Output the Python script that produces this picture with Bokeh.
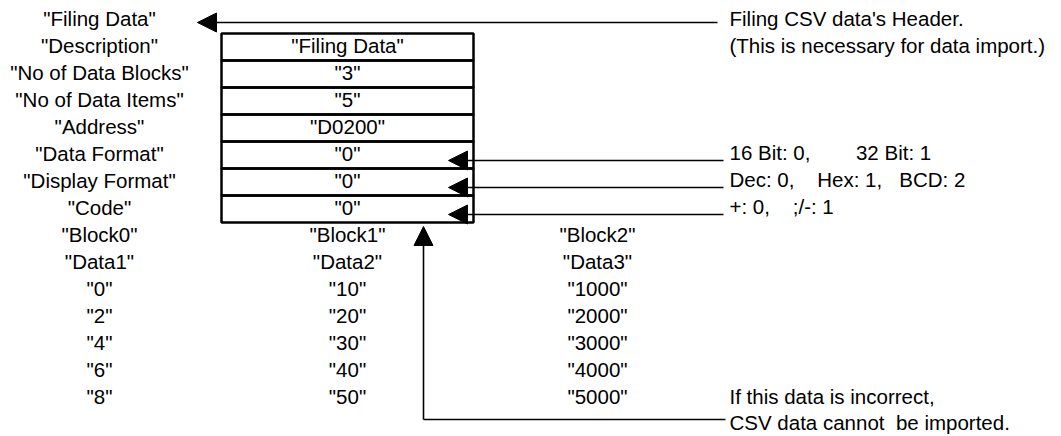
from bokeh.plotting import figure
from bokeh.models import Range1d, ColumnDataSource, Arrow, NormalHead
from bokeh.core.properties import value
from bokeh.embed import file_html
from bokeh.resources import INLINE

NB = "\u00a0"

# ---- data ----
field_labels = ['"Filing Data"', '"Description"', '"No of Data Blocks"', '"No of Data Items"',
                '"Address"', '"Data Format"', '"Display Format"', '"Code"']
header_values = ['"Filing Data"', '"3"', '"5"', '"D0200"', '"0"', '"0"', '"0"']
block_names = ['"Block0"', '"Block1"', '"Block2"']
data_names = ['"Data1"', '"Data2"', '"Data3"']
block0_values = ['"0"', '"2"', '"4"', '"6"', '"8"']
block1_values = ['"10"', '"20"', '"30"', '"40"', '"50"']
block2_values = ['"1000"', '"2000"', '"3000"', '"4000"', '"5000"']
note_texts = ["Filing CSV data's Header.",
              "(This is necessary for data import.)",
              "16 Bit: 0," + NB * 8 + "32 Bit: 1",
              "Dec: 0," + NB * 4 + "Hex: 1," + NB * 3 + "BCD: 2",
              "+: 0," + NB * 4 + ";/-: 1",
              "If this data is incorrect,",
              "CSV data cannot" + NB * 2 + "be imported."]
note_ys = [17.5, 45, 152, 179, 206, 395.5, 422]

# ---- layout ----
W, H = 1045, 436
ROW0, STEP = 17.5, 27
COLS = [99, 347, 597]
BOX_L, BOX_R, BOX_T = 221, 473, 33
NOTE_X = 729
FONT = value("Liberation Sans")
FS = "20.5px"

def row_y(i):
    return ROW0 + STEP * i

p = figure(width=W, height=H, output_backend="svg", toolbar_location=None,
           x_range=Range1d(0, W), y_range=Range1d(H, 0), min_border=0)
p.axis.visible = False
p.grid.visible = False
p.outline_line_color = None
p.background_fill_color = "white"
p.border_fill_color = "white"

# header box rows
tops = [BOX_T + STEP * k for k in range(len(header_values))]
p.quad(left=BOX_L, right=BOX_R, top=tops, bottom=[t + STEP for t in tops],
       fill_color=None, line_color="black", line_width=2.5)

def texts(xs, ys, labels, align="center"):
    src = ColumnDataSource(dict(x=xs, y=ys, t=labels))
    p.text(x="x", y="y", text="t", source=src, text_font=FONT, text_font_size=FS,
           text_align=align, text_baseline="middle", text_color="black")

# left column labels
texts([COLS[0]] * len(field_labels), [row_y(i) for i in range(len(field_labels))], field_labels)
# box values
texts([(BOX_L + BOX_R) / 2] * len(header_values),
      [row_y(i + 1) for i in range(len(header_values))], header_values)
# blocks
base = len(field_labels)
texts(COLS, [row_y(base)] * 3, block_names)
texts(COLS, [row_y(base + 1)] * 3, data_names)
for col, vals in zip(COLS, [block0_values, block1_values, block2_values]):
    texts([col] * len(vals), [row_y(base + 2 + j) for j in range(len(vals))], vals)
# notes
texts([NOTE_X] * len(note_texts), note_ys, note_texts, align="left")

# arrows
def arrow(x0, y0, x1, y1):
    p.add_layout(Arrow(x_start=x0, y_start=y0, x_end=x1, y_end=y1, line_width=1.6,
                       line_color="black",
                       end=NormalHead(size=19, fill_color="black", line_color="black", line_width=1)))

arrow(717, 22, 197, 22)
for yy in [160, 187, 214]:
    arrow(723, yy, 448, yy)
p.line(x=[725, 423], y=[419, 419], line_color="black", line_width=1.6)
arrow(423, 419, 423, 226)

open("out.html", "w").write(file_html(p, INLINE))
